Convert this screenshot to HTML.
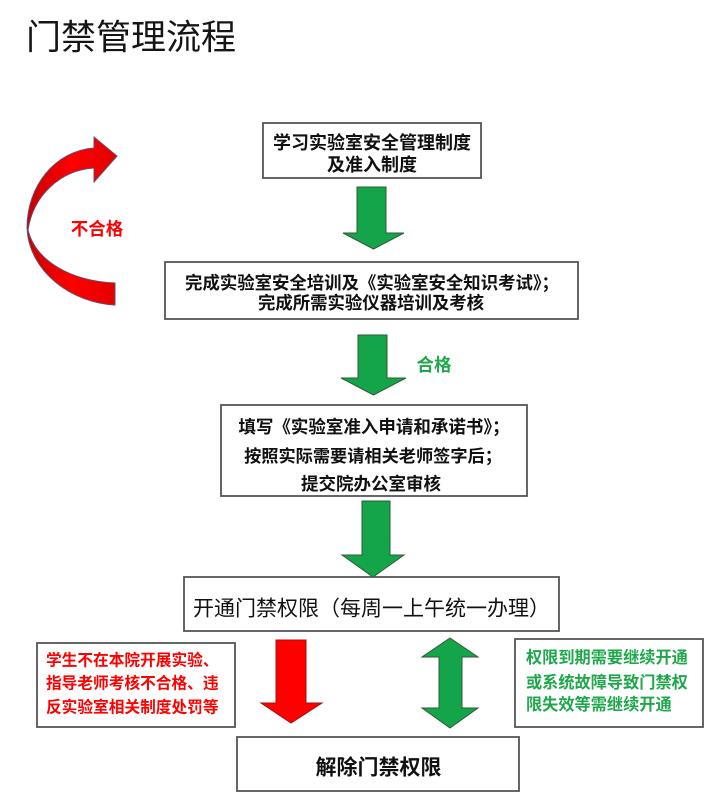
<!DOCTYPE html>
<html>
<head>
<meta charset="utf-8">
<style>
  html, body { margin: 0; padding: 0; background: #ffffff; }
  body { width: 710px; height: 807px; overflow: hidden; }
  svg { display: block; }
  text { font-family: "Liberation Sans", "Noto Sans CJK SC", "WenQuanYi Zen Hei", sans-serif; }
</style>
</head>
<body>
<svg width="710" height="807" viewBox="0 0 710 807" xmlns="http://www.w3.org/2000/svg">
  <defs>
    <linearGradient id="redg" x1="0" y1="0" x2="1" y2="0">
      <stop offset="0" stop-color="#c80000"/>
      <stop offset="0.5" stop-color="#ff0000"/>
      <stop offset="1" stop-color="#e00000"/>
    </linearGradient>
  </defs>

  <!-- Title -->
  <text x="26" y="38" font-size="35" fill="#151515" dominant-baseline="central">门禁管理流程</text>

  <!-- Curved red arrow -->
  <path d="M115,305 C72,303 29,272 27,228 C27,186 55,151 94,148 L94,137 L117,156 L94,182 L94,168 C60,170 33,196 28,230 C36,262 72,281 115,283 Z"
        fill="url(#redg)" stroke="#6a4a6a" stroke-width="1"/>
  <text x="97" y="229" font-size="17.5" font-weight="bold" fill="#ff0000" text-anchor="middle" dominant-baseline="central">不合格</text>

  <!-- Box 1 -->
  <rect x="263" y="123" width="218" height="55" fill="#fff" stroke="#555" stroke-width="1.8"/>
  <text x="372" y="143" font-size="18" font-weight="bold" fill="#111" text-anchor="middle" dominant-baseline="central">学习实验室安全管理制度</text>
  <text x="372" y="165" font-size="18" font-weight="bold" fill="#111" text-anchor="middle" dominant-baseline="central">及准入制度</text>

  <!-- Arrow 1 -->
  <path d="M357,187 L386,187 L386,233 L404,233 L373.5,249 L343,233 L357,233 Z" fill="#14a54a" stroke="#2f5a34" stroke-width="1"/>

  <!-- Box 2 -->
  <rect x="165" y="262" width="413" height="57" fill="#fff" stroke="#555" stroke-width="1.8"/>
  <text x="372" y="283" font-size="17.4" font-weight="bold" fill="#111" text-anchor="middle" dominant-baseline="central">完成实验室安全培训及《实验室安全知识考试》；</text>
  <text x="371" y="303" font-size="17.4" font-weight="bold" fill="#111" text-anchor="middle" dominant-baseline="central">完成所需实验仪器培训及考核</text>

  <!-- Arrow 2 -->
  <path d="M358,335 L387,335 L387,378 L406,378 L373.5,395 L341,378 L358,378 Z" fill="#14a54a" stroke="#2f5a34" stroke-width="1"/>
  <text x="434" y="365" font-size="17.5" font-weight="bold" fill="#1ea84b" text-anchor="middle" dominant-baseline="central">合格</text>

  <!-- Box 3 -->
  <rect x="221" y="405" width="306" height="91" fill="#fff" stroke="#555" stroke-width="1.8"/>
  <text x="374" y="427" font-size="17.5" font-weight="bold" fill="#111" text-anchor="middle" dominant-baseline="central">填写《实验室准入申请和承诺书》；</text>
  <text x="373" y="456" font-size="17.2" font-weight="bold" fill="#111" text-anchor="middle" dominant-baseline="central">按照实际需要请相关老师签字后；</text>
  <text x="371" y="484" font-size="17.5" font-weight="bold" fill="#111" text-anchor="middle" dominant-baseline="central">提交院办公室审核</text>

  <!-- Arrow 3 -->
  <path d="M362,501 L390,501 L390,555 L404,555 L373,577 L342,555 L362,555 Z" fill="#14a54a" stroke="#2f5a34" stroke-width="1"/>

  <!-- Box 4 -->
  <rect x="184" y="577" width="375" height="54" fill="#fff" stroke="#555" stroke-width="1.8"/>
  <text x="371.5" y="609" font-size="21" fill="#111" text-anchor="middle" dominant-baseline="central">开通门禁权限（每周一上午统一办理）</text>

  <!-- Red box -->
  <rect x="37" y="643" width="198" height="84" fill="#fff" stroke="#555" stroke-width="1.8"/>
  <text x="46" y="661" font-size="15.7" font-weight="bold" fill="#ff0000" dominant-baseline="central">学生不在本院开展实验、</text>
  <text x="46" y="684" font-size="15.7" font-weight="bold" fill="#ff0000" dominant-baseline="central">指导老师考核不合格、违</text>
  <text x="46" y="708" font-size="15.7" font-weight="bold" fill="#ff0000" dominant-baseline="central">反实验室相关制度处罚等</text>

  <!-- Red arrow -->
  <path d="M276,640 L306,640 L306,703 L322,703 L291,723 L261,703 L276,703 Z" fill="#ff0000" stroke="#a01010" stroke-width="1"/>

  <!-- Double green arrow -->
  <path d="M450,638 L478,657 L462,657 L462,708 L478,708 L450,728 L422,708 L439,708 L439,657 L422,657 Z" fill="#14a54a" stroke="#2f5a34" stroke-width="1"/>

  <!-- Green box -->
  <rect x="515" y="639" width="188" height="88" fill="#fff" stroke="#555" stroke-width="1.8"/>
  <text x="526" y="658" font-size="16.2" font-weight="bold" fill="#1ea84b" dominant-baseline="central">权限到期需要继续开通</text>
  <text x="526" y="683" font-size="16.2" font-weight="bold" fill="#1ea84b" dominant-baseline="central">或系统故障导致门禁权</text>
  <text x="526" y="705" font-size="16.2" font-weight="bold" fill="#1ea84b" dominant-baseline="central">限失效等需继续开通</text>

  <!-- Box 5 -->
  <rect x="237" y="737" width="282" height="54" fill="#fff" stroke="#555" stroke-width="1.8"/>
  <text x="378.5" y="768" font-size="21" font-weight="bold" fill="#111" text-anchor="middle" dominant-baseline="central">解除门禁权限</text>
</svg>
</body>
</html>
